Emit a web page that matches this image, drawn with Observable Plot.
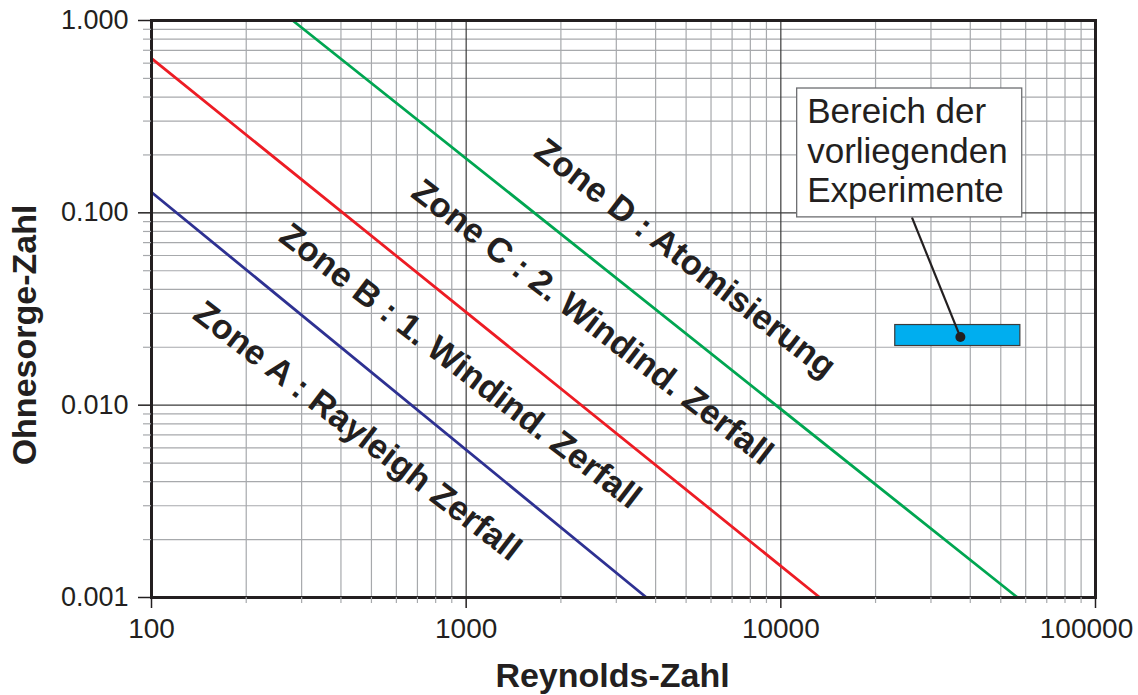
<!DOCTYPE html>
<html>
<head>
<meta charset="utf-8">
<script src="https://cdn.jsdelivr.net/npm/d3@7"></script>
<script src="https://cdn.jsdelivr.net/npm/@observablehq/plot@0.6"></script>
<style>
  body { margin: 0; background: #fff; }
  #chart svg { display: block; }
</style>
</head>
<body>
<div id="chart"></div>
<script>
// Zone boundaries of jet break-up (straight lines in log–log space: [Re, Oh] endpoints)
const boundaryAB = [[100, 0.128], [3740, 0.001]];
const boundaryBC = [[100, 0.635], [13300, 0.001]];
const boundaryCD = [[281, 1.0], [56500, 0.001]];

// Zone names
const zoneNames = [
  "Zone A : Rayleigh Zerfall",
  "Zone B : 1. Windind. Zerfall",
  "Zone C : 2. Windind. Zerfall",
  "Zone D : Atomisierung"
];

// Range covered by the experiments
const expRe = [23100, 57700];
const expOh = [0.0203, 0.0261];
const expCentre = [37200, 0.0226];
const calloutText = "Bereich der\nvorliegenden\nExperimente";

// Axis ticks
const xTicks = [100, 1000, 10000, 100000];
const yTicks = [0.001, 0.01, 0.1, 1];
const minorSteps = [2, 3, 4, 5, 6, 7, 8, 9];

// ---- annotation placement (in data units) ----
const zoneLabelAt = [[451, 0.00733], [958, 0.01595], [2518, 0.0270], [4966, 0.0580]];
const calloutBox = {x1: 11270, x2: 58500, y1: 0.0947, y2: 0.443};
const leaderStart = [26100, 0.0947];

const xMinor = xTicks.slice(0, -1).flatMap(d => minorSteps.map(m => d * m));
const yMinor = yTicks.slice(0, -1).flatMap(d => minorSteps.map(m => d * m));

const zoneLabels = zoneNames.map((name, i) => ({name, re: zoneLabelAt[i][0], oh: zoneLabelAt[i][1]}));
const boundaries = [
  {pts: boundaryAB, color: "#2e3192"},
  {pts: boundaryBC, color: "#ed1c24"},
  {pts: boundaryCD, color: "#00a651"}
];

const ink = "#231f20";
const font = "'Liberation Sans', Arial, Helvetica, sans-serif";

const chart = Plot.plot({
  width: 1138,
  height: 695,
  marginLeft: 151,
  marginRight: 43,
  marginTop: 20,
  marginBottom: 98,
  x: {type: "log", domain: [100, 100000]},
  y: {type: "log", domain: [0.001, 1]},
  style: {fontFamily: font, color: ink, background: "#fff"},
  marks: [
    // grid
    Plot.ruleX(xMinor, {stroke: "#a7a9ac", strokeWidth: 1.2}),
    Plot.ruleY(yMinor, {stroke: "#a7a9ac", strokeWidth: 1.2}),
    Plot.ruleX([1000, 10000], {stroke: "#3a3a3a", strokeWidth: 1.2}),
    Plot.ruleY([0.01, 0.1], {stroke: "#3a3a3a", strokeWidth: 1.2}),

    // zone boundaries
    ...boundaries.map(b => Plot.line(b.pts, {x: d => d[0], y: d => d[1], stroke: b.color, strokeWidth: 2.8})),

    // zone labels
    Plot.text(zoneLabels, {
      x: "re", y: "oh", text: "name", rotate: 37.5,
      fontSize: 34.5, fontWeight: "bold", fill: ink, textAnchor: "middle", lineAnchor: "middle"
    }),

    // experimental range
    Plot.rect([{x1: expRe[0], x2: expRe[1], y1: expOh[0], y2: expOh[1]}], {
      x1: "x1", x2: "x2", y1: "y1", y2: "y2", fill: "#00aeef", stroke: "#3b3b3b", strokeWidth: 1.2
    }),
    Plot.link([{a: leaderStart, b: expCentre}], {
      x1: d => d.a[0], y1: d => d.a[1], x2: d => d.b[0], y2: d => d.b[1], stroke: ink, strokeWidth: 2.2
    }),
    Plot.dot([expCentre], {x: d => d[0], y: d => d[1], r: 5, fill: ink}),

    // callout
    Plot.rect([calloutBox], {x1: "x1", x2: "x2", y1: "y1", y2: "y2", fill: "#fff", stroke: "#6d6e71", strokeWidth: 1.3}),
    Plot.text([calloutBox], {
      x: "x1", y: "y2", text: () => calloutText, dx: 10, dy: 7,
      textAnchor: "start", lineAnchor: "top", lineHeight: 1.12, fontSize: 35, fill: ink
    }),

    // frame
    Plot.frame({stroke: ink, strokeWidth: 3}),

    // axes: minor ticks
    Plot.axisX(xMinor, {tickSize: 6, tickFormat: () => "", stroke: "#a7a9ac", strokeWidth: 1.2, label: null}),
    Plot.axisY(yMinor, {tickSize: 8, tickFormat: () => "", stroke: "#a7a9ac", strokeWidth: 1.2, label: null}),
    // axes: major ticks and labels
    Plot.axisX(xTicks, {tickSize: 11, tickFormat: () => "", stroke: ink, strokeWidth: 1.5, label: null}),
    Plot.axisX(xTicks.slice(0, -1), {tickSize: 0, tickPadding: 21, tickFormat: d => String(d), fontSize: 28, label: null}),
    Plot.axisX(xTicks.slice(-1), {tickSize: 0, tickPadding: 21, dx: -9, tickFormat: d => String(d), fontSize: 28, label: null}),
    Plot.axisY(yTicks, {tickSize: 13, tickPadding: 10, tickFormat: d3.format(".3f"), fontSize: 27, stroke: ink, strokeWidth: 1.5, label: null}),

    // axis titles
    Plot.text(["Reynolds-Zahl"], {
      text: d => d, frameAnchor: "bottom", textAnchor: "middle", lineAnchor: "middle",
      dx: -11, dy: 79, fontSize: 34, fontWeight: "bold", fill: ink
    }),
    Plot.text(["Ohnesorge-Zahl"], {
      text: d => d, frameAnchor: "left", textAnchor: "middle", lineAnchor: "middle",
      rotate: -90, dx: -126, dy: 26, fontSize: 34, fontWeight: "bold", fill: ink
    })
  ]
});

document.getElementById("chart").append(chart);
</script>
</body>
</html>
